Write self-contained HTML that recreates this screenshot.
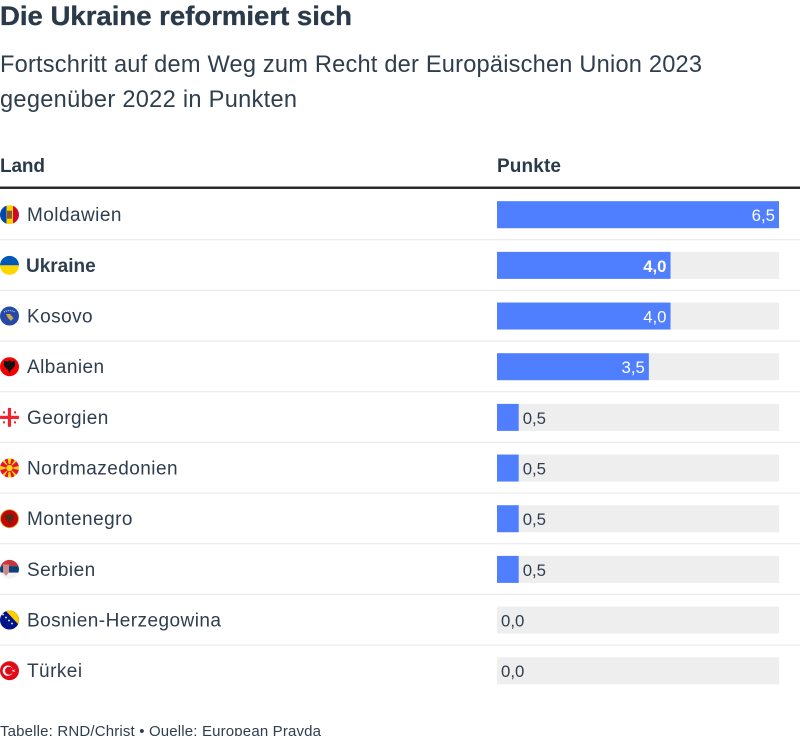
<!DOCTYPE html>
<html lang="de">
<head>
<meta charset="utf-8">
<title>Die Ukraine reformiert sich</title>
<style>
html,body{margin:0;padding:0;background:#fff;width:800px;height:736px;overflow:hidden}
svg{display:block;font-family:"Liberation Sans",sans-serif}
</style>
</head>
<body>
<svg id="chart" xmlns="http://www.w3.org/2000/svg" width="800" height="736" viewBox="0 0 800 736">
  <text x="0" y="25" font-size="27" font-weight="700" fill="#2a3a4a" stroke="#2a3a4a" stroke-width="0.35" textLength="352" lengthAdjust="spacingAndGlyphs">Die Ukraine reformiert sich</text>
  <text x="0" y="72" font-size="23.6" fill="#2f3e4e" textLength="702" lengthAdjust="spacing">Fortschritt auf dem Weg zum Recht der Europäischen Union 2023</text>
  <text x="0" y="107" font-size="23.6" fill="#2f3e4e" textLength="297" lengthAdjust="spacing">gegenüber 2022 in Punkten</text>
  <text x="0" y="172" font-size="19" font-weight="700" fill="#2a3a4a" textLength="45" lengthAdjust="spacing">Land</text>
  <text x="497" y="172" font-size="19" font-weight="700" fill="#2a3a4a" textLength="64" lengthAdjust="spacing">Punkte</text>
  <rect x="0" y="186.5" width="800" height="2.5" fill="#2b2b2b"/>
  <defs><clipPath id="flag-clip"><circle cx="9.5" cy="0" r="9.5"/></clipPath></defs>
  <g id="rows"></g>
  <text x="0" y="736" font-size="15" fill="#2f3e4e" textLength="321" lengthAdjust="spacing">Tabelle: RND/Christ • Quelle: European Pravda</text>
</svg>
<script>
const categories = ["Moldawien","Ukraine","Kosovo","Albanien","Georgien","Nordmazedonien","Montenegro","Serbien","Bosnien-Herzegowina","Türkei"];
const values = [6.5,4.0,4.0,3.5,0.5,0.5,0.5,0.5,0.0,0.0];
const valueLabels = ["6,5","4,0","4,0","3,5","0,5","0,5","0,5","0,5","0,0","0,0"];
const highlighted = ["Ukraine"];
const domainMax = 6.5;

const NS = "http://www.w3.org/2000/svg";
const barLeft = 497, barWidth = 282, barHeight = 27;
const firstRowCenter = 214.7, rowPitch = 50.67;
const xScale = v => barWidth * v / domainMax;
const yScale = i => firstRowCenter + rowPitch * i;

function mk(parent, tag, attrs, text) {
  const el = document.createElementNS(NS, tag);
  for (const k in attrs) el.setAttribute(k, attrs[k]);
  if (text !== undefined) el.textContent = text;
  parent.appendChild(el);
  return el;
}

const flagArt = {
  "Moldawien": g => {
    mk(g,"rect",{x:0,y:-10,width:6.5,height:20,fill:"#0046ae"});
    mk(g,"rect",{x:6.5,y:-10,width:6.5,height:20,fill:"#ffd200"});
    mk(g,"rect",{x:13,y:-10,width:6.5,height:20,fill:"#cc092f"});
    mk(g,"rect",{x:7,y:-4,width:5,height:8,fill:"#8a5a2b"});
  },
  "Ukraine": g => {
    mk(g,"rect",{x:0,y:-10,width:20,height:10,fill:"#0057b7"});
    mk(g,"rect",{x:0,y:0,width:20,height:10,fill:"#ffd700"});
  },
  "Kosovo": g => {
    mk(g,"rect",{x:0,y:-10,width:20,height:20,fill:"#244aa5"});
    mk(g,"path",{d:"M6 -2 L10 -2 L13.5 2 L11 5 L8 2 Z",fill:"#d0a650"});
    mk(g,"path",{d:"M4 -4 Q9.5 -7 15 -4",fill:"none",stroke:"#dfe6f5","stroke-width":1,"stroke-dasharray":"1 1"});
  },
  "Albanien": g => {
    mk(g,"rect",{x:0,y:-10,width:20,height:20,fill:"#f40000"});
    mk(g,"path",{d:"M9.5 -7 L11 -5 L15 -6 L15 -1 L12.5 2 L11 3 L9.5 7 L8 3 L6.5 2 L4 -1 L4 -6 L8 -5 Z",fill:"#111"});
  },
  "Georgien": g => {
    mk(g,"rect",{x:0,y:-10,width:20,height:20,fill:"#fff"});
    mk(g,"rect",{x:7.9,y:-10,width:3.2,height:20,fill:"#f0232e"});
    mk(g,"rect",{x:0,y:-1.6,width:20,height:3.2,fill:"#f0232e"});
    [[4,-5],[15,-5],[4,5],[15,5]].forEach(p => {
      mk(g,"rect",{x:p[0]-1,y:p[1]-1,width:2,height:2,fill:"#f0232e"});
    });
  },
  "Nordmazedonien": g => {
    mk(g,"rect",{x:0,y:-10,width:20,height:20,fill:"#e8112d"});
    mk(g,"path",{d:"M7.5 -10 H11.5 L9.5 0 Z M7.5 10 H11.5 L9.5 0 Z M0 -2 V2 L9.5 0 Z M19 -2 V2 L9.5 0 Z M1 -8 L3.5 -9.5 L9.5 0 Z M18 -8 L15.5 -9.5 L9.5 0 Z M1 8 L3.5 9.5 L9.5 0 Z M18 8 L15.5 9.5 L9.5 0 Z",fill:"#f9d616"});
    mk(g,"circle",{cx:9.5,cy:0,r:3.6,fill:"#f9d616",stroke:"#e8112d","stroke-width":0.8});
  },
  "Montenegro": g => {
    mk(g,"rect",{x:0,y:-10,width:20,height:20,fill:"#d4af3a"});
    mk(g,"circle",{cx:9.5,cy:0,r:8.6,fill:"#c40308"});
    mk(g,"path",{d:"M9.5 -5 L12 -4 L14.5 -3 L13 1 L11 2 L10 5 L9 5 L8 2 L6 1 L4.5 -3 L7 -4 Z",fill:"#4e2f12"});
  },
  "Serbien": g => {
    mk(g,"rect",{x:0,y:-10,width:20,height:6.7,fill:"#c6363c"});
    mk(g,"rect",{x:0,y:-3.3,width:20,height:6.6,fill:"#0c4076"});
    mk(g,"rect",{x:0,y:3.3,width:20,height:6.7,fill:"#f2f2f2"});
    mk(g,"path",{d:"M3 -5 H9 V3 L6 6.5 L3 3 Z",fill:"#c98a8a"});
  },
  "Bosnien-Herzegowina": g => {
    mk(g,"rect",{x:0,y:-10,width:20,height:20,fill:"#001489"});
    mk(g,"path",{d:"M5 -10 H20 V6 Z",fill:"#ffcd00"});
    [[3,-5.5],[6,-2.5],[9,0.5],[12,3.5]].forEach(p => {
      mk(g,"circle",{cx:p[0],cy:p[1],r:0.9,fill:"#fff"});
    });
  },
  "Türkei": g => {
    mk(g,"rect",{x:0,y:-10,width:20,height:20,fill:"#e30a17"});
    mk(g,"circle",{cx:7.8,cy:0,r:5.2,fill:"#fff"});
    mk(g,"circle",{cx:9,cy:0,r:4,fill:"#e30a17"});
    mk(g,"path",{d:"M11.5 0 L15.5 -1.4 L14 0 L15.5 1.4 Z",fill:"#fff"});
  }
};

const rowsGroup = document.getElementById("rows");
categories.forEach((name, i) => {
  const cy = yScale(i);
  const bold = highlighted.includes(name);
  const slug = name.toLowerCase();

  const row = mk(rowsGroup, "g", {});
  
  

  const flag = mk(row, "g", {transform: "translate(0 " + cy + ")", "clip-path": "url(#flag-clip)"});
  
  
  flagArt[name](flag);

  const label = mk(row, "text", {
    x: bold ? 26 : 27, y: cy + 6.5, "font-size": 19,
    "font-weight": bold ? 700 : 400, fill: "#2f3e4e", "letter-spacing": bold ? 0 : 0.45
  }, name);
  
  

  const track = mk(row, "rect", {x: barLeft, y: cy - barHeight / 2, width: barWidth, height: barHeight, fill: "#eeeeee"});
  
  

  const w = xScale(values[i]);
  if (w > 0) {
    const bar = mk(row, "rect", {x: barLeft, y: cy - barHeight / 2, width: w, height: barHeight, fill: "#4f7fff"});
    
    
  }

  const inside = values[i] >= 1;
  const val = mk(row, "text", {
    x: inside ? barLeft + w - 4 : barLeft + w + 4,
    y: cy + 6.5,
    "text-anchor": inside ? "end" : "start",
    "font-size": 16.8,
    "font-weight": bold ? 700 : 400,
    fill: inside ? "#ffffff" : "#2f3e4e"
  }, valueLabels[i]);
  
  

  if (i < categories.length - 1) {
    const sep = mk(row, "rect", {x: 0, y: cy + rowPitch / 2 - 1, width: 800, height: 1.3, fill: "#ececec"});
    
    
  }
});
</script>
</body>
</html>
